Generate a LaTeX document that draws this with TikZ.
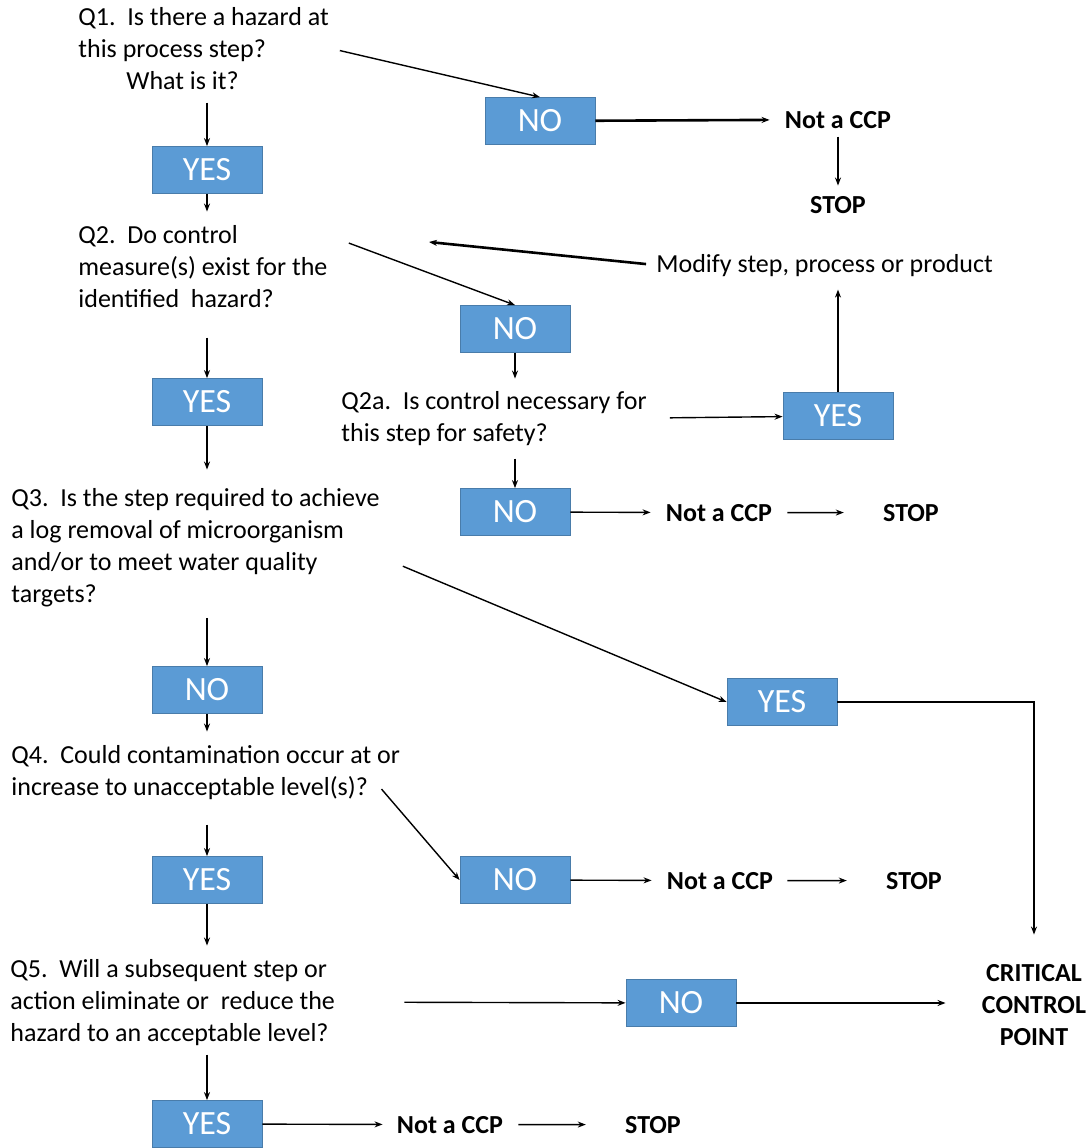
\documentclass[tikz,border=0pt]{standalone}
\usepackage{fontspec}
\setmainfont{Carlito}
\usetikzlibrary{arrows.meta}
\definecolor{boxblue}{HTML}{5B9BD5}

\begin{document}
\begin{tikzpicture}[x=0.5pt,y=-0.5pt,
	answer/.style={draw=boxblue!80!black,line width=0.4pt,fill=boxblue,text=white,minimum width=55pt,minimum height=23.5pt,inner sep=0pt,font=\fontsize{17}{20}\selectfont},
	question/.style={anchor=base west,align=left,inner sep=0pt,font=\fontsize{13}{16}\selectfont},
	result/.style={anchor=base,inner sep=0pt,font=\fontsize{13}{16}\selectfont\bfseries},
	link/.style={-{Stealth[length=4pt,width=3pt]},line width=0.7pt},
	boldlink/.style={link,line width=1.3pt}]
				\useasboundingbox (0,0) rectangle (1091,1148);
				\node[question] (q1) at (78,89) {Q1.\ \ Is there a hazard at\\this process step?\\\hspace*{24pt}What is it?};
				\node[answer] (yes1) at (207,170) {YES};
				\node[question] (q2) at (78,307) {Q2.\ \ Do control\\measure(s) exist for the\\identified\ \ hazard?};
				\node[answer] (yes2) at (207,402) {YES};
				\node[question] (q3) at (11,602) {Q3.\ \ Is the step required to achieve\\a log removal of microorganism\\and/or to meet water quality\\targets?};
				\node[answer] (no3) at (207,690) {NO};
				\node[question] (q4) at (11,795) {Q4.\ \ Could contamination occur at or\\increase to unacceptable level(s)?};
				\node[answer] (yes4) at (207,880) {YES};
				\node[question] (q5) at (10,1041) {Q5.\ \ Will a subsequent step or\\action eliminate or\ \ reduce the\\hazard to an acceptable level?};
				\node[answer] (yes5) at (207,1124) {YES};
				\node[result] (ncc5) at (450,1133) {Not a CCP};
				\node[result] (stop5) at (653,1133) {STOP};
				\node[answer] (no1) at (540,121) {NO};
				\node[result] (ncc1) at (838,128) {Not a CCP};
				\node[result] (stop1) at (838,213) {STOP};
				\node[question] (modify) at (656,272) {Modify step, process or product};
				\coordinate (back) at (429,242);
				\node[answer] (no2) at (515,329) {NO};
				\node[question] (q2a) at (341,441) {Q2a.\ \ Is control necessary for\\this step for safety?};
				\node[answer] (yes2a) at (838,416) {YES};
				\node[answer] (no2b) at (515,512) {NO};
				\node[result] (ncc2b) at (719,521) {Not a CCP};
				\node[result] (stop2b) at (911,521) {STOP};
				\node[answer] (yes3) at (782,702) {YES};
				\node[answer] (no4) at (515,880) {NO};
				\node[result] (ncc4) at (720,889) {Not a CCP};
				\node[result] (stop4) at (914,889) {STOP};
				\node[answer] (no5) at (681,1003) {NO};
				\node[result,align=center] (ccp) at (1034,1045) {CRITICAL\\CONTROL\\POINT};
				\draw[link,shorten <=6.5pt] (q1.south -| yes1) -- (yes1);
				\draw[link,shorten >=6.5pt] (yes1) -- (yes1 |- q2.north);
				\draw[link,shorten <=15pt] (q2.south -| yes2) -- (yes2);
				\draw[link,shorten >=9pt] (yes2) -- (yes2 |- q3.north);
				\draw[link,shorten <=5.5pt] (q3.south -| no3) -- (no3);
				\draw[link,shorten >=6.5pt] (no3) -- (no3 |- q4.north);
				\draw[link,shorten <=12.5pt] (q4.south -| yes4) -- (yes4);
				\draw[link,shorten >=6.5pt] (yes4) -- (yes4 |- q5.north);
				\draw[link,shorten <=4.5pt] (q5.south -| yes5) -- (yes5);
				\draw[link,shorten >=7pt] (yes5) -- (ncc5);
				\draw[link,shorten <=7.5pt,shorten >=19.5pt] (ncc5) -- (stop5);
				\draw[link,shorten <=5.5pt] (q1.east) -- (no1.north);
				\draw[boldlink,shorten >=7.5pt] (no1) -- (ncc1);
				\draw[link,shorten <=4pt,shorten >=5pt] (ncc1) -- (stop1);
				\draw[boldlink,shorten <=5pt] (modify.west) -- (back);
				\draw[link] ([shift={(21,-23)}]q2.east) -- (no2.north);
				\draw[link,shorten >=6pt] (no2) -- (no2 |- q2a.north);
				\draw[link,shorten <=11.5pt] (q2a.east) -- (yes2a);
				\draw[link,shorten >=6.5pt] (yes2a) -- (yes2a |- modify.south);
				\draw[link,shorten <=6.5pt] (q2a.south -| no2b) -- (no2b);
				\draw[link,shorten >=7.5pt] (no2b) -- (ncc2b);
				\draw[link,shorten <=7.5pt,shorten >=19.5pt] (ncc2b) -- (stop2b);
				\draw[link] ([shift={(23,19)}]q3.east) -- (yes3.west);
				\draw[link,shorten >=14.5pt] (yes3) -| (ccp.north);
				\draw[link] ([shift={(-19,17)}]q4.east) -- (no4.west);
				\draw[link,shorten >=7.5pt] (no4) -- (ncc4);
				\draw[link,shorten <=7pt,shorten >=19.5pt] (ncc4) -- (stop4);
				\draw[link,shorten <=34.5pt] (q5.east) -- (no5);
				\draw[link,shorten >=18pt] (no5) -- (no5 -| ccp.west);
			\end{tikzpicture}
\end{document}
